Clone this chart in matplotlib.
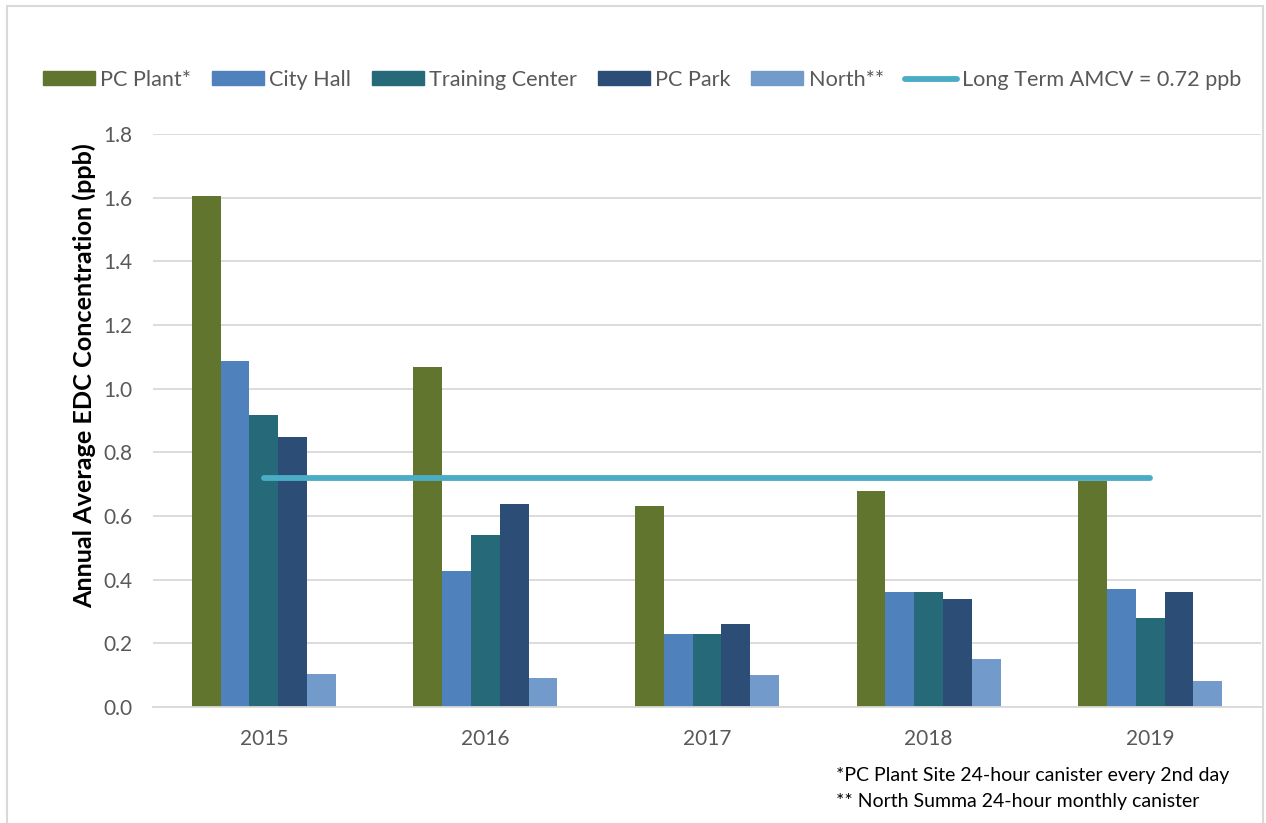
import matplotlib
matplotlib.use("Agg")
import matplotlib.pyplot as plt
import numpy as np
from matplotlib.lines import Line2D
from matplotlib.patches import Patch, Rectangle

# フォント (Calibri の代わり)
plt.rcParams["font.family"] = ["Lato", "DejaVu Sans"]

# データ
years = ["2015", "2016", "2017", "2018", "2019"]
sites = ["PC Plant*", "City Hall", "Training Center", "PC Park", "North**"]
pc_plant = [1.605, 1.068, 0.63, 0.68, 0.71]
city_hall = [1.087, 0.428, 0.23, 0.36, 0.37]
training_center = [0.916, 0.54, 0.23, 0.36, 0.28]
pc_park = [0.849, 0.639, 0.26, 0.34, 0.36]
north = [0.105, 0.09, 0.10, 0.15, 0.083]
amcv = 0.72
amcv_label = "Long Term AMCV = 0.72 ppb"
notes = ["*PC Plant Site 24-hour canister every 2nd day",
         "** North Summa 24-hour monthly canister"]

# カラー定数
COLORS = ["#62752F", "#4F81BD", "#266A7A", "#2C4D75", "#729ACA"]
COLOR_AMCV = "#4BACC6"
COLOR_GRID = "#D9D9D9"
COLOR_TEXT = "#595959"

W, H = 1266, 823
fig = plt.figure(figsize=(W / 100, H / 100), dpi=100)
ax = fig.add_axes([153 / W, 1 - 707 / H, 1108 / W, 573 / H])

x = np.arange(len(years))
bar_w = 0.13
series = [pc_plant, city_hall, training_center, pc_park, north]
for i, vals in enumerate(series):
    ax.bar(x + (i - 2) * bar_w, vals, width=bar_w, color=COLORS[i],
           edgecolor="none", zorder=2)

# AMCV 横線 (カテゴリ中心を結ぶ)
ax.plot(x, [amcv] * len(x), color=COLOR_AMCV, linewidth=4.2,
        solid_capstyle="round", zorder=3)

ax.set_xlim(-0.5, len(years) - 0.5)
ax.set_ylim(0, 1.8)
ax.set_yticks(np.arange(0, 1.81, 0.2))
ax.set_yticklabels([f"{v:.1f}" for v in np.arange(0, 1.81, 0.2)])
ax.set_xticks(x)
ax.set_xticklabels(years)
ax.tick_params(axis="both", length=0, labelsize=15, labelcolor=COLOR_TEXT)
ax.tick_params(axis="x", pad=16)
ax.tick_params(axis="y", pad=15)
ax.yaxis.grid(True, color=COLOR_GRID, linewidth=1.3, zorder=0)
ax.set_axisbelow(True)
for s in ["top", "right", "left"]:
    ax.spines[s].set_visible(False)
ax.spines["bottom"].set_color(COLOR_GRID)
ax.spines["bottom"].set_linewidth(1.3)

# Y軸ラベル
fig.text(84 / W, 1 - 376 / H, "Annual Average EDC Concentration (ppb)",
         rotation=90, ha="center", va="center", fontsize=18.2,
         fontweight="bold", color="black")

# 凡例
fs_leg = 15.6
handles = [Patch(color=c, label=s) for c, s in zip(COLORS, sites)]
handles.append(Line2D([0], [0], color=COLOR_AMCV, linewidth=4.2,
                      solid_capstyle="round", label=amcv_label))
fig.legend(handles=handles, loc="center left", bbox_to_anchor=(43 / W, 1 - 80 / H),
           ncol=6, frameon=False, fontsize=fs_leg, labelcolor=COLOR_TEXT,
           handlelength=2.4, handleheight=0.62, handletextpad=0.25,
           columnspacing=0.95, borderaxespad=0, borderpad=0)

# 注記
fig.text(836 / W, 1 - 776 / H, notes[0], ha="left", va="center",
         fontsize=14, color="black")
fig.text(836 / W, 1 - 802 / H, notes[1], ha="left", va="center",
         fontsize=14, color="black")

# 図の枠線
fig.patches.append(Rectangle((6.5 / W, -0.05), (1263 - 6.5) / W, 1.05 - 6.5 / H,
                             transform=fig.transFigure, fill=False,
                             edgecolor=COLOR_GRID, linewidth=1.5))

fig.savefig("out.png", dpi=100)
